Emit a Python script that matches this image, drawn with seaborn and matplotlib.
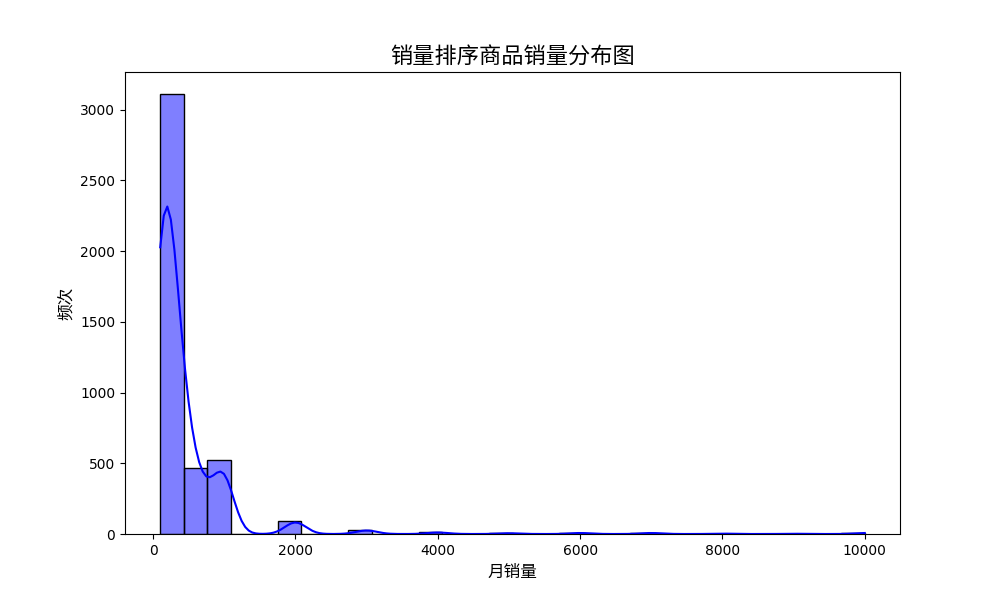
import matplotlib
matplotlib.use("Agg")
import matplotlib.pyplot as plt
import seaborn as sns
import numpy as np
import pandas as pd

plt.rcParams['font.family'] = ['DejaVu Sans', 'Noto Sans CJK SC']
plt.rcParams['axes.unicode_minus'] = False

# 月销量取值（如 100+、1000+、1万+）及对应商品数
sales_values = [100, 200, 300, 400, 500, 600, 700, 800, 900, 1000,
                2000, 3000, 4000, 5000, 6000, 7000, 8000, 9000, 10000]
item_counts = [1140, 1100, 560, 310, 250, 120, 100, 80, 60, 380,
               92, 28, 12, 6, 8, 8, 3, 2, 8]

# 展开为逐个商品的月销量
df = pd.DataFrame({'月销量': np.repeat(sales_values, item_counts)})

plt.figure(figsize=(10, 6))
sns.histplot(df['月销量'], bins=30, kde=True, color='blue')
plt.title('销量排序商品销量分布图', fontsize=16)
plt.xlabel('月销量', fontsize=12)
plt.ylabel('频次', fontsize=12)
plt.savefig('out.png', dpi=100)
